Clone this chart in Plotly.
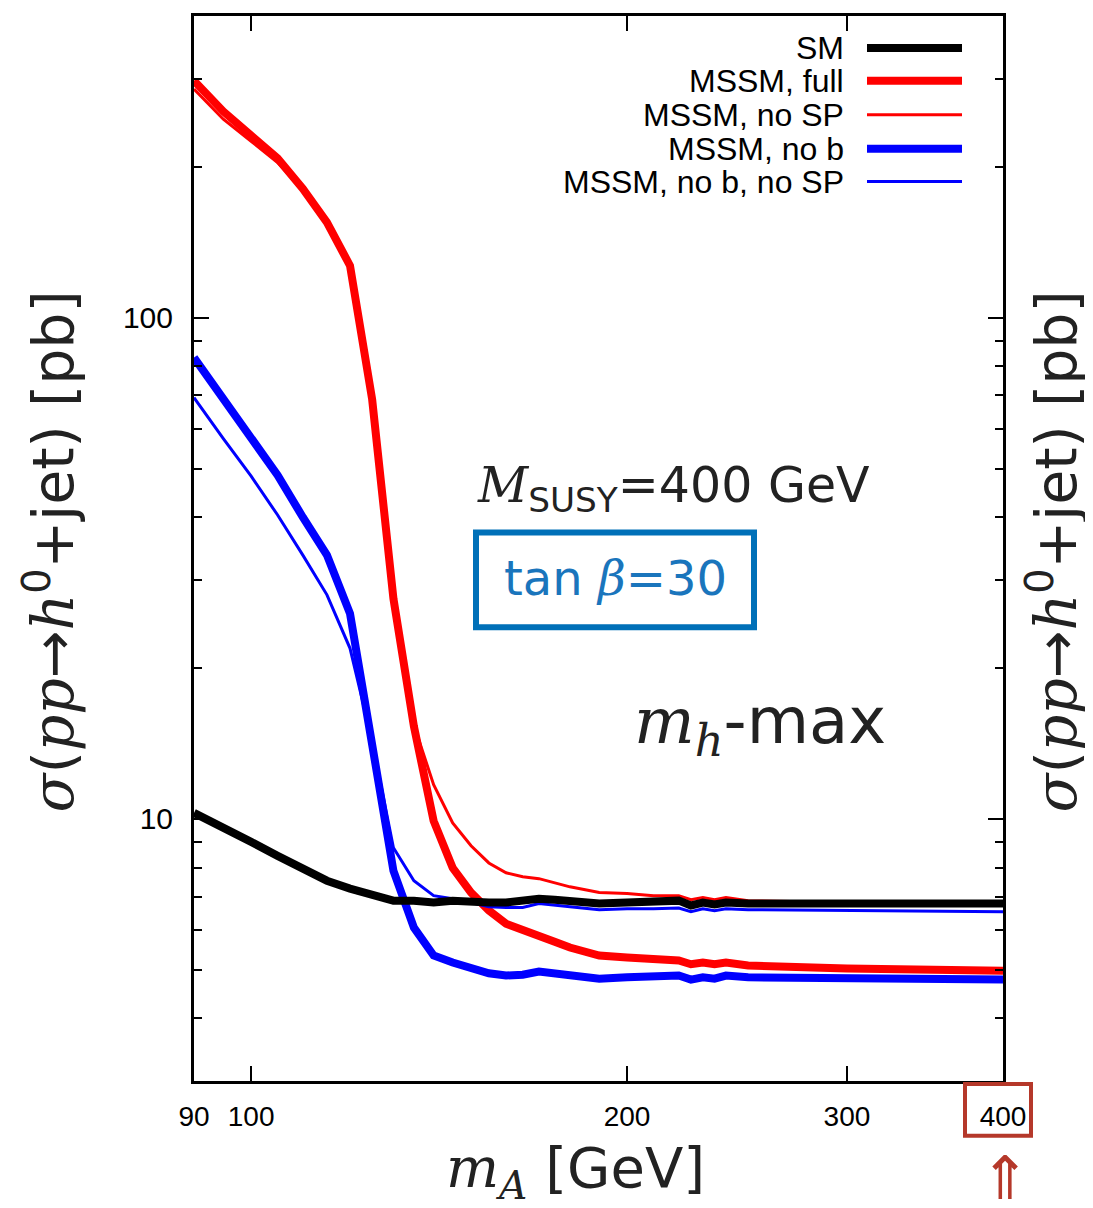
import plotly.graph_objects as go

# m_A grid [GeV]
mA = [90, 95, 100, 105, 110, 115, 120, 125, 130, 135, 140, 145, 150, 155, 160, 165,
      170, 175, 180, 190, 200, 210, 220, 225, 230, 235, 240, 250, 300, 400]

# cross sections [pb]
sm = [10.28, 9.64, 9.00, 8.44, 7.96, 7.53, 7.26, 7.03, 6.87, 6.87, 6.81, 6.87, 6.81, 6.81,
      6.81, 6.87, 6.93, 6.90, 6.87, 6.78, 6.81, 6.84, 6.87, 6.72, 6.81, 6.75, 6.81, 6.78, 6.78, 6.78]
mssm_full = [297, 258, 231, 208, 181, 155, 127, 68.7, 27.5, 15.3, 9.91, 7.99, 7.13, 6.57,
             6.18, 5.99, 5.85, 5.69, 5.54, 5.34, 5.29, 5.24, 5.22, 5.13, 5.17, 5.13, 5.17, 5.10, 5.03, 4.98]
mssm_nosp = [286, 249, 225, 204, 180, 154, 126, 68.7, 27.5, 15.4, 11.7, 9.82, 8.84, 8.17,
             7.81, 7.67, 7.60, 7.46, 7.32, 7.13, 7.10, 7.03, 7.03, 6.90, 6.97, 6.90, 6.97, 6.87, 6.81, 6.75]
mssm_nob = [83.3, 69.0, 57.7, 48.5, 40.0, 33.6, 25.7, 14.3, 7.88, 6.07, 5.34, 5.17, 5.03, 4.92,
            4.87, 4.89, 4.96, 4.92, 4.87, 4.80, 4.83, 4.83, 4.87, 4.78, 4.83, 4.80, 4.87, 4.83, 4.80, 4.78]
mssm_nob_nosp = [69.3, 57.4, 48.3, 40.4, 33.6, 28.0, 21.9, 14.3, 8.76, 7.53, 7.03, 6.93, 6.81, 6.68,
                 6.66, 6.66, 6.78, 6.72, 6.68, 6.59, 6.62, 6.62, 6.64, 6.53, 6.62, 6.56, 6.62, 6.59, 6.56, 6.53]

series_names = ["SM", "MSSM, full", "MSSM, no SP", "MSSM, no b", "MSSM, no b, no SP"]
series_vals = [sm, mssm_full, mssm_nosp, mssm_nob, mssm_nob_nosp]
series_colors = ["black", "#ff0000", "#ff0000", "#0000ff", "#0000ff"]
series_widths = [8, 8, 3, 8, 3]

x_ticks = [90, 100, 200, 300, 400]
y_ticks = [10, 100]
y_minor = [4, 5, 6, 7, 8, 9, 20, 30, 40, 50, 60, 70, 80, 90, 200, 300]

fig = go.Figure()
for i in [1, 2, 4, 3, 0]:
    fig.add_trace(go.Scatter(x=mA, y=series_vals[i], mode="lines", name=series_names[i],
                             line=dict(color=series_colors[i], width=series_widths[i]),
                             showlegend=False))

W, H = 1093, 1208
PL, PR, PT, PB = 194, 1003, 13, 1081   # plot frame in reference pixel coords
OFF = 8                                  # page offset of the rendered figure
pw, ph = PR - PL, PB - PT
L, T = PL - OFF, PT - OFF
R, B = W - L - pw, H - T - ph

def px(x):
    return (x - PL) / pw

def py(y):
    return (PB - y) / ph

def note(x, y, text, **kw):
    fig.add_annotation(xref="paper", yref="paper", x=px(x), y=py(y), text=text,
                       showarrow=False, xanchor=kw.pop("xanchor", "center"),
                       yanchor="middle", **kw)

# manual legend
leg_y = [45, 78, 112, 146, 179]
for i, name in enumerate(series_names):
    note(846, leg_y[i], name, xanchor="right",
         font=dict(family="Liberation Sans, Arial", size=32, color="black"))
    fig.add_shape(type="line", xref="paper", yref="paper", x0=px(867), x1=px(962),
                  y0=py(leg_y[i]), y1=py(leg_y[i]),
                  line=dict(color=series_colors[i], width=series_widths[i]))

serif = "font-family:'DejaVu Serif', 'Liberation Serif', serif"
sans = "'DejaVu Sans', 'Open Sans', sans-serif"

# in-plot texts
note(673, 487, f"<span style=\"{serif}\"><i>M</i></span><sub>SUSY</sub>=400 GeV",
     font=dict(family=sans, size=49, color="#222"))
note(615, 577, f"tan <span style=\"{serif}\"><i>β</i></span>=30",
     font=dict(family=sans, size=48, color="#1a75bc"))
fig.add_shape(type="rect", xref="paper", yref="paper", x0=px(476), x1=px(754),
              y0=py(531), y1=py(626), line=dict(color="#0070b8", width=6))
note(760, 724, f"<span style=\"{serif}\"><i>m</i></span><sub><span style=\"{serif}\"><i>h</i></span></sub>-max",
     font=dict(family=sans, size=64, color="#222"))

# axis titles
ytitle = (f"<span style=\"{serif}\"><i>σ</i></span>(<span style=\"{serif}\"><i>pp</i></span>→"
          f"<span style=\"{serif}\"><i>h</i></span><sup>0</sup>+jet) [pb]")
note(50, 550, ytitle, textangle=-90, font=dict(family=sans, size=57, color="#222"))
note(1053, 550, ytitle, textangle=-90, font=dict(family=sans, size=57, color="#222"))
note(575, 1172, f"<span style=\"{serif}\"><i>m</i></span><sub><span style=\"{serif}\"><i>A</i></span></sub> [GeV]",
     font=dict(family=sans, size=56, color="#222"))

# red highlight box and arrow
fig.add_shape(type="rect", xref="paper", yref="paper", x0=px(965), x1=px(1031),
              y0=py(1084), y1=py(1136), line=dict(color="#b5382a", width=4))
note(1005, 1178, "⇑", font=dict(family="DejaVu Sans", size=60, color="#b5382a"))

axis_common = dict(showgrid=False, zeroline=False, showline=True, linecolor="black",
                   linewidth=3, mirror="allticks", ticks="inside", tickcolor="black",
                   tickwidth=2, ticklen=15)

fig.update_xaxes(type="log", range=[1.954243, 2.60206], tickmode="array",
                 tickvals=x_ticks, ticktext=[str(v) for v in x_ticks], tickangle=0,
                 tickfont=dict(family="Liberation Sans, Arial", size=28, color="black"),
                 ticklabelstandoff=8, **axis_common)
fig.update_yaxes(type="log", range=[0.477121, 2.60206], tickmode="array",
                 tickvals=y_ticks, ticktext=[str(v) for v in y_ticks],
                 tickfont=dict(family="Liberation Sans, Arial", size=30, color="black"),
                 ticklabelstandoff=12,
                 minor=dict(tickmode="array", tickvals=y_minor, ticks="inside",
                            ticklen=8, tickwidth=2, tickcolor="black"),
                 **axis_common)

fig.update_layout(width=W, height=H, margin=dict(l=L, r=R, t=T, b=B),
                  plot_bgcolor="white", paper_bgcolor="white", showlegend=False)

fig.write_html("out.html")
